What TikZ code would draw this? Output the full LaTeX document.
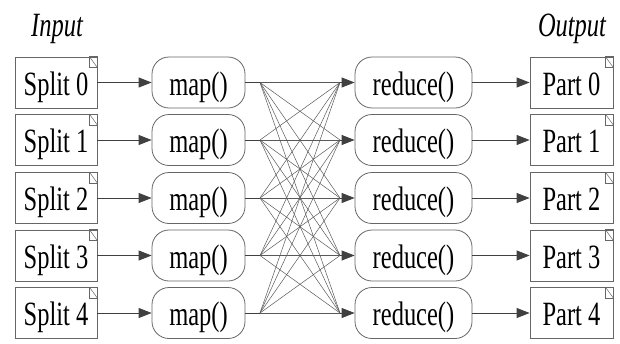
\documentclass[tikz,border=0pt]{standalone}
\usepackage{fontspec}
\setmainfont[FakeStretch=0.72]{Liberation Serif}
\usetikzlibrary{arrows.meta}
\begin{document}
\begin{tikzpicture}[x=1pt,y=-1pt,
  lbl/.style={font=\fontsize{34}{34}\selectfont,inner sep=0pt,text height=25pt,text depth=0pt},
  box/.style={lbl,draw=black!60,line width=0.8pt,minimum height=51pt},
  rbox/.style={box,rounded corners=17pt},
  arr/.style={draw=black!75,line width=0.8pt,-{Triangle[length=13pt,width=10pt]}},
  plain/.style={draw=black!75,line width=0.8pt},
  fan/.style={draw=black!65,line width=0.5pt},
  dogear/.style={draw=black!60,line width=0.5pt}]
\useasboundingbox (0,0) rectangle (620,343);
\node[lbl,font=\fontsize{34}{34}\selectfont\itshape] (in) at (57,24) {Input};
\node[lbl,font=\fontsize{34}{34}\selectfont\itshape] (out) at (572,24) {Output};
\foreach \i/\y in {0/82.5,1/140,2/198,3/255.5,4/313} {
  \node[box,minimum width=82pt] (s\i) at (56,\y) {Split \i};
  \node[rbox,minimum width=93pt] (m\i) at (198.5,\y) {map()};
  \node[rbox,minimum width=117pt] (r\i) at (413.5,\y) {reduce()};
  \node[box,minimum width=83pt] (p\i) at (571.5,\y) {Part \i};
  \coordinate (a\i) at (260,\y);
  \coordinate (b\i) at (340,\y);
  \draw[dogear] ([xshift=-8pt]s\i.north east) rectangle ++(8,11);
  \draw[dogear] ([xshift=-8pt]s\i.north east) -- ++(8,11);
  \draw[dogear] ([xshift=-8pt]p\i.north east) rectangle ++(8,11);
  \draw[dogear] ([xshift=-8pt]p\i.north east) -- ++(8,11);
  \draw[arr] (s\i) -- (m\i);
  \draw[plain] (m\i) -- (a\i);
  \draw[arr] (b\i) -- (r\i);
  \draw[arr] (r\i) -- (p\i);
}
\foreach \i in {0,...,4} {
  \foreach \j in {0,...,4} {
    \draw[fan] (a\i) -- (b\j);
  }
}
\end{tikzpicture}
\end{document}
